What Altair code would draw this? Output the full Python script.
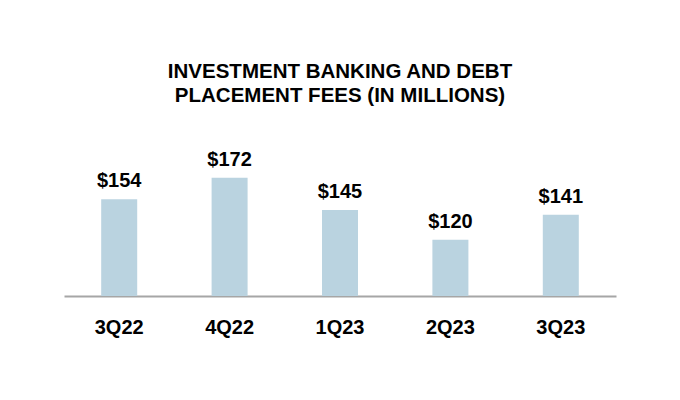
import altair as alt
import pandas as pd

quarters = ["3Q22", "4Q22", "1Q23", "2Q23", "3Q23"]
fees = [154, 172, 145, 120, 141]
labels = ["$154", "$172", "$145", "$120", "$141"]

df = pd.DataFrame({"quarter": quarters, "fees": fees, "label": labels})

FONT = "Liberation Sans"
Y_MIN = 72.8
Y_MAX = 212.1

x = alt.X(
    "quarter:N",
    sort=quarters,
    title=None,
    scale=alt.Scale(paddingInner=0, paddingOuter=0),
    axis=alt.Axis(
        labelAngle=0,
        labelFont=FONT,
        labelFontSize=20,
        labelFontWeight="bold",
        labelColor="#000000",
        labelPadding=21,
        ticks=False,
        domainColor="#a6a6a6",
        domainWidth=2,
        grid=False,
    ),
)
y = alt.Y(
    "fees:Q",
    scale=alt.Scale(domain=[Y_MIN, Y_MAX], zero=False, nice=False),
    axis=None,
)

bars = alt.Chart(df).mark_bar(size=36, color="#bad3e0").encode(
    x=x, y=y, y2=alt.datum(Y_MIN)
)
text = alt.Chart(df).mark_text(
    dy=-12, baseline="alphabetic", font=FONT, fontSize=20, fontWeight="bold", color="#000000"
).encode(x=x, y=y, text="label:N")

chart = (
    alt.layer(bars, text)
    .properties(
        width=552,
        height=166,
        background="#ffffff",
        title=alt.TitleParams(
            ["INVESTMENT BANKING AND DEBT", "PLACEMENT FEES (IN MILLIONS)"],
            font=FONT,
            fontSize=20.5,
            fontWeight="bold",
            color="#000000",
            lineHeight=24,
            offset=24,
            anchor="middle",
        ),
        autosize=alt.AutoSizeParams(type="none"),
        padding={"left": 56, "top": 122, "right": 56, "bottom": 96},
    )
    .configure_view(strokeWidth=0)
)

chart.save("out.html", embed_options={"renderer": "svg", "actions": False})
